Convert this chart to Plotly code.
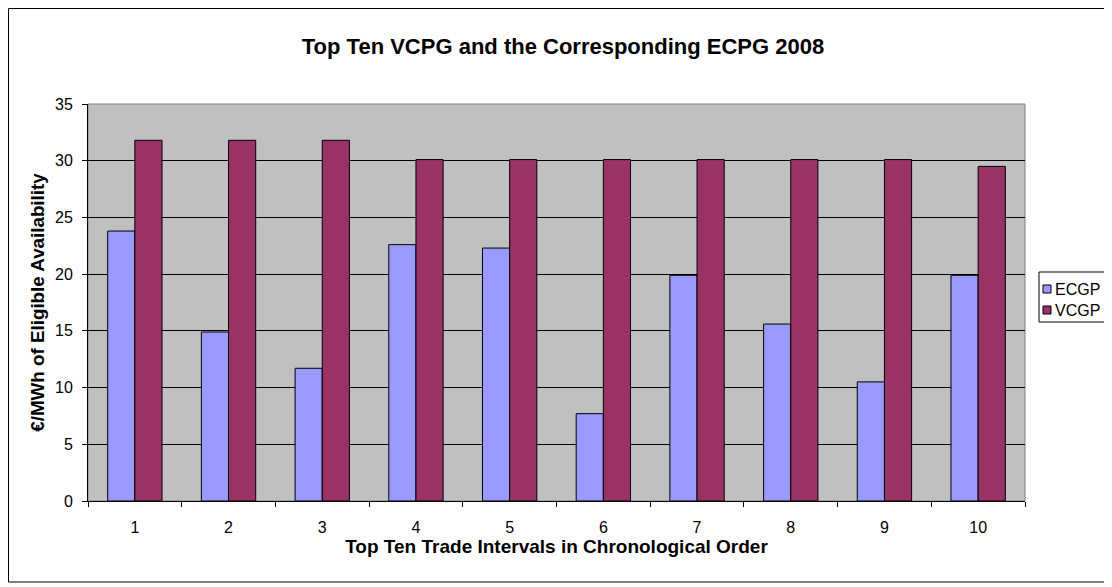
import plotly.graph_objects as go

categories = ["1", "2", "3", "4", "5", "6", "7", "8", "9", "10"]
ecgp = [23.8, 14.9, 11.7, 22.6, 22.3, 7.7, 19.9, 15.6, 10.5, 19.9]
vcgp = [31.8, 31.8, 31.8, 30.1, 30.1, 30.1, 30.1, 30.1, 30.1, 29.5]
series_names = ["ECGP", "VCGP"]
series_colors = ["#9999FF", "#993366"]
y_ticks = [0, 5, 10, 15, 20, 25, 30, 35]

# page has an 8px body margin, so the figure is drawn 8px smaller
W, H = 1104, 579
L, T = 80, 96
pw, ph = 937, 397
R, B = W - L - pw, H - T - ph

def px(x):
    return (x - L) / pw

def py(y):
    return 1 - (y - T) / ph

fig = go.Figure()
for name, vals, col in zip(series_names, [ecgp, vcgp], series_colors):
    fig.add_trace(go.Bar(x=categories, y=vals, name=name, showlegend=False,
                         marker=dict(color=col, line=dict(color="black", width=1))))

font = "Liberation Sans, Arial, sans-serif"

shapes = [
    dict(type="rect", xref="paper", yref="paper", x0=0, x1=1, y0=0, y1=1,
         line=dict(color="#808080", width=1), layer="below"),
    dict(type="rect", xref="paper", yref="paper",
         x0=px(0.5), x1=px(1110), y0=py(574), y1=py(0.5),
         line=dict(color="black", width=1)),
    # legend box
    dict(type="rect", xref="paper", yref="paper",
         x0=px(1031), x1=px(1110), y0=py(314), y1=py(264),
         line=dict(color="black", width=1), fillcolor="white"),
]
annotations = []
for i, (name, col) in enumerate(zip(series_names, series_colors)):
    cy = 281 + 21 * i
    shapes.append(dict(type="rect", xref="paper", yref="paper",
                       x0=px(1035), x1=px(1043), y0=py(cy + 4), y1=py(cy - 4),
                       line=dict(color="black", width=1), fillcolor=col))
    annotations.append(dict(text=name, xref="paper", yref="paper",
                            x=px(1045), y=py(cy), xanchor="left", yanchor="middle",
                            showarrow=False, font=dict(size=16)))

fig.update_layout(
    width=W, height=H,
    margin=dict(l=L, r=R, t=T, b=B, autoexpand=False),
    paper_bgcolor="white",
    plot_bgcolor="#C0C0C0",
    barmode="group",
    bargap=0.42,
    bargroupgap=0,
    showlegend=False,
    font=dict(family=font, size=16, color="black"),
    title=dict(text="<b>Top Ten VCPG and the Corresponding ECPG 2008</b>",
               x=px(555), xref="paper", xanchor="center", y=1 - 38 / H, yanchor="middle",
               font=dict(size=22)),
    xaxis=dict(title=dict(text="<b>Top Ten Trade Intervals in Chronological Order</b>",
                          font=dict(size=19), standoff=4),
               showline=True, linecolor="black", linewidth=1,
               ticks="outside", tickson="boundaries", ticklen=5, tickcolor="black",
               ticklabelstandoff=12,
               showgrid=False, automargin=False),
    yaxis=dict(title=dict(text="<b>€/MWh of Eligible Availability</b>",
                          font=dict(size=18.8), standoff=5),
               range=[0, 35], tickvals=y_ticks,
               showline=True, linecolor="black", linewidth=1,
               ticks="outside", ticklen=5, tickcolor="black",
               ticklabelstandoff=6,
               showgrid=True, gridcolor="black", gridwidth=1,
               zeroline=False, automargin=False),
    shapes=shapes,
    annotations=annotations,
)

fig.write_html("out.html")
